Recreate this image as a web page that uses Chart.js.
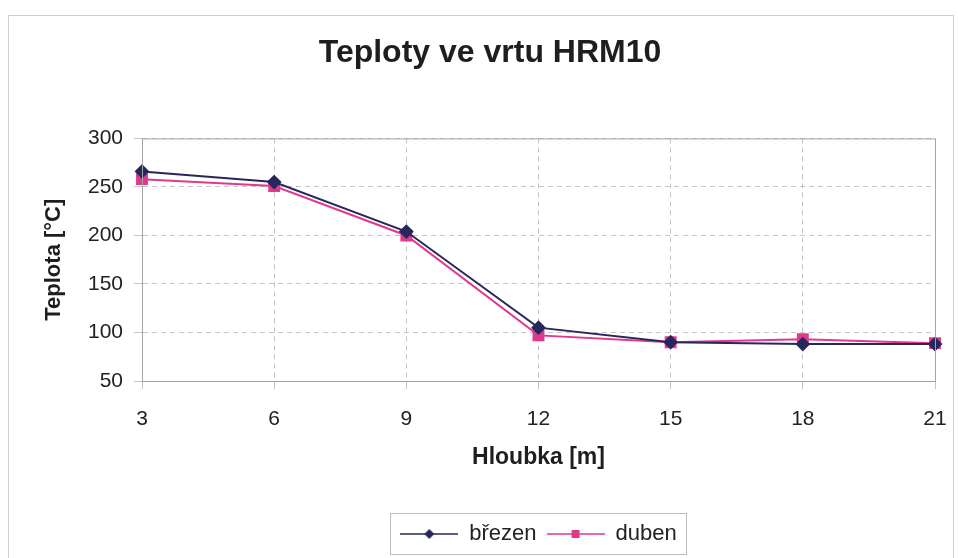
<!DOCTYPE html>
<html>
<head>
<meta charset="utf-8">
<script src="https://cdn.jsdelivr.net/npm/chart.js@4/dist/chart.umd.min.js"></script>
<style>
  html, body { margin: 0; padding: 0; background: #fff; }
  #wrap { width: 959px; height: 558px; }
</style>
</head>
<body>
<div id="wrap"><canvas id="graf" width="959" height="558"></canvas></div>
<script>
// hloubky a teploty
var hloubky = ['3', '6', '9', '12', '15', '18', '21'];
var brezen = [266, 255, 204, 105, 90, 88, 88];
var duben = [258, 251, 200, 97, 90, 93, 89];
var nazvySerii = ['březen', 'duben'];

var modra = '#26275c';
var ruzova = '#e2388c';
var pismo = "'Liberation Sans', Arial, sans-serif";

// ikonka do legendy: cara se znackou uprostred
function ikonka(barva, tvar) {
    var c = document.createElement('canvas');
    c.width = 58; c.height = 16;
    var g = c.getContext('2d');
    g.strokeStyle = barva;
    g.lineWidth = 1.5;
    g.beginPath(); g.moveTo(0, 8); g.lineTo(58, 8); g.stroke();
    g.fillStyle = barva;
    g.beginPath();
    if (tvar == 'kosoctverec') {
        g.moveTo(29, 3); g.lineTo(34, 8); g.lineTo(29, 13); g.lineTo(24, 8);
    } else {
        g.rect(25, 4, 8, 8);
    }
    g.closePath(); g.fill();
    return c;
}
var ikony = [ikonka(modra, 'kosoctverec'), ikonka(ruzova, 'ctverec')];

// ramecek kolem grafu, kolem plochy a kolem legendy
var ramecky = {
    id: 'ramecky',
    afterDraw: function (chart) {
        var ctx = chart.ctx;
        var a = chart.chartArea;
        ctx.save();
        ctx.lineWidth = 1;
        ctx.strokeStyle = '#a4a4a4';
        ctx.strokeRect(a.left + 0.5, a.top + 0.5, a.right - a.left, a.bottom - a.top);
        ctx.strokeStyle = '#d0d0d0';
        ctx.strokeRect(8.5, 15.5, 945, 560);
        var hb = chart.legend.legendHitBoxes;
        if (hb && hb.length) {
            var l = Infinity, r = -Infinity, t = Infinity, b = -Infinity;
            hb.forEach(function (h) {
                l = Math.min(l, h.left); r = Math.max(r, h.left + h.width);
                t = Math.min(t, h.top); b = Math.max(b, h.top + h.height);
            });
            ctx.strokeStyle = '#bdbdbd';
            ctx.strokeRect(Math.round(l - 10) + 0.5, Math.round(t - 10) + 0.5,
                Math.round(r - l + 20), Math.round(b - t + 19));
        }
        ctx.restore();
    }
};

var ctx = document.getElementById('graf').getContext('2d');
var graf = new Chart(ctx, {
    type: 'line',
    data: {
        labels: hloubky,
        datasets: [
            {
                label: nazvySerii[0],
                data: brezen,
                borderColor: modra,
                backgroundColor: modra,
                borderWidth: 2,
                pointStyle: 'rectRot',
                pointRadius: 6,
                tension: 0
            },
            {
                label: nazvySerii[1],
                data: duben,
                borderColor: ruzova,
                backgroundColor: ruzova,
                borderWidth: 2,
                pointStyle: 'rect',
                pointRadius: 7,
                tension: 0
            }
        ]
    },
    options: {
        responsive: false,
        animation: false,
        layout: { padding: { left: 45, right: 24, top: 10, bottom: 3 } },
        plugins: {
            title: {
                display: true,
                text: 'Teploty ve vrtu HRM10',
                color: '#1e1e1e',
                font: { family: pismo, size: 32, weight: 'bold' },
                padding: { top: 24, bottom: 66 }
            },
            legend: {
                position: 'bottom',
                fullSize: false,
                labels: {
                    color: '#222',
                    font: { family: pismo, size: 22 },
                    usePointStyle: true,
                    pointStyleWidth: 58,
                    padding: 10,
                    generateLabels: function (chart) {
                        return chart.data.datasets.map(function (ds, i) {
                            return {
                                text: ds.label,
                                pointStyle: ikony[i],
                                fillStyle: ds.borderColor,
                                strokeStyle: ds.borderColor,
                                fontColor: '#222',
                                lineWidth: 0,
                                datasetIndex: i
                            };
                        });
                    }
                }
            },
            tooltip: { enabled: false }
        },
        scales: {
            x: {
                offset: false,
                grid: { color: '#c4c4c4', tickLength: 8 },
                border: { display: true, color: '#a4a4a4', dash: [5, 4] },
                ticks: {
                    color: '#222',
                    font: { family: pismo, size: 21 },
                    padding: 18,
                    maxRotation: 0
                },
                title: {
                    display: true,
                    text: 'Hloubka [m]',
                    color: '#1e1e1e',
                    font: { family: pismo, size: 23, weight: 'bold' },
                    padding: { top: 0, bottom: 42 }
                },
                afterFit: function (s) {
                    s.height = 132;
                    s.paddingLeft = 0;
                    s.paddingRight = 0;
                }
            },
            y: {
                min: 50,
                max: 300,
                ticks: {
                    stepSize: 50,
                    color: '#222',
                    font: { family: pismo, size: 21 },
                    padding: 11
                },
                grid: { color: '#c4c4c4', tickLength: 8 },
                border: { display: true, color: '#a4a4a4', dash: [5, 4] },
                title: {
                    display: true,
                    text: 'Teplota [°C]',
                    color: '#1e1e1e',
                    font: { family: pismo, size: 22, weight: 'bold' },
                    padding: { top: -4, bottom: 0 }
                },
                afterFit: function (s) { s.width = 97; }
            }
        }
    },
    plugins: [ramecky]
});
</script>
</body>
</html>
